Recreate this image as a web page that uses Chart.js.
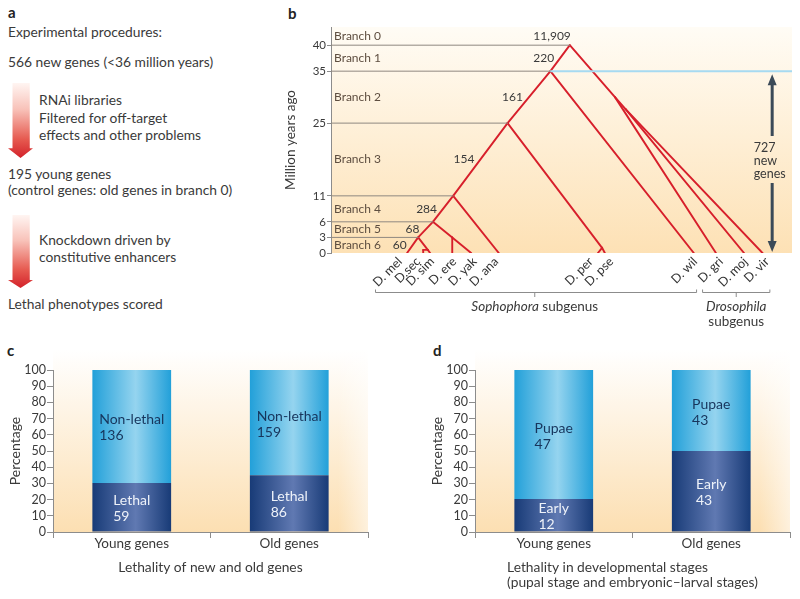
<!DOCTYPE html>
<html>
<head>
<meta charset="utf-8">
<title>Young genes in Drosophila</title>
<script src="https://cdn.jsdelivr.net/npm/chart.js@4.4.1/dist/chart.umd.min.js"></script>
<style>
  body { margin: 0; width: 800px; height: 599px; position: relative; overflow: hidden; background: #fff;
         font-family: Lato, "Open Sans", sans-serif; color: #3a3a3a; }
  .t { position: absolute; font-size: 13.8px; line-height: 17px; white-space: nowrap; }
  .letter { position: absolute; font-size: 15px; line-height: 17px; font-weight: bold; color: #222; }
  .arrow { position: absolute; left: 8px; width: 25px;
           background: linear-gradient(to bottom, #fff5f2 0%, #f8c2b9 35%, #e65a50 75%, #d3222a 100%); }
  canvas { position: absolute; }
</style>
</head>
<body>

<!-- panel a is just text and two arrows -->
<div class="letter" style="left:8px;top:4px">a</div>
<div class="t" style="left:8px;top:23px">Experimental procedures:</div>
<div class="t" style="left:8px;top:53px">566 new genes (&lt;36 million years)</div>
<div class="arrow" style="top:83px;height:75px;clip-path:polygon(18% 0,87% 0,87% 87%,100% 87%,50% 100%,0 87%,18% 87%)"></div>
<div class="t" style="left:39px;top:91px">RNAi libraries</div>
<div class="t" style="left:39px;top:109px">Filtered for off-target</div>
<div class="t" style="left:39px;top:126px">effects and other problems</div>
<div class="t" style="left:8px;top:165px">195 young genes</div>
<div class="t" style="left:8px;top:181px">(control genes: old genes in branch 0)</div>
<div class="arrow" style="top:215px;height:73px;clip-path:polygon(18% 0,87% 0,87% 89%,100% 89%,50% 100%,0 89%,18% 89%)"></div>
<div class="t" style="left:39px;top:231px">Knockdown driven by</div>
<div class="t" style="left:39px;top:248px">constitutive enhancers</div>
<div class="t" style="left:8px;top:295px">Lethal phenotypes scored</div>

<div class="letter" style="left:288px;top:5px">b</div>
<div class="letter" style="left:7px;top:342px">c</div>
<div class="letter" style="left:433px;top:342px">d</div>

<canvas id="tree" width="530" height="335" style="left:270px;top:0px"></canvas>
<canvas id="lethality" width="400" height="259" style="left:0px;top:340px"></canvas>
<canvas id="stages" width="400" height="259" style="left:400px;top:340px"></canvas>

<script>
const fam = 'Lato, "Open Sans", sans-serif';
Chart.defaults.font.family = fam;
Chart.defaults.color = '#3a3a3a';

// ---- panel b data ----
const tickAges = [0, 3, 6, 11, 25, 35, 40];
const branchNames = ['Branch 0', 'Branch 1', 'Branch 2', 'Branch 3', 'Branch 4', 'Branch 5', 'Branch 6'];
const branchGenes = ['11,909', '220', '161', '154', '284', '68', '60'];
const branchTop = [43.5, 40, 35, 25, 11, 6, 3];
const branchBottom = [40, 35, 25, 11, 6, 3, 0];

// tree nodes: x is just the left-right place in the drawing (0-100), age in million years
const nodeNames = ['root', 'n35', 'n25', 'n11', 'n6', 'n3', 'nEY', 'nSS', 'nSec', 'nPP', 'nD', 'nMV',
                   'mel', 'sec', 'sim', 'ere', 'yak', 'ana', 'per', 'pse', 'wil', 'gri', 'moj', 'vir'];
const nodeX = [51.8, 47.6, 38.3, 26.5, 22.1, 18.9, 26.3, 21.0, 20.0, 58.8, 61.6, 63.9,
               16.5, 20.0, 21.5, 26.3, 30.4, 36.4, 57.9, 59.4, 78.7, 83.5, 89.6, 93.6];
const nodeAge = [40, 35, 25, 11, 6, 3, 3, 0.6, 0.6, 1, 30, 27.7,
                 0, 0, 0, 0, 0, 0, 0, 0, 0, 0, 0, 0];
const edgeFrom = ['root', 'n35', 'n25', 'n11', 'n6', 'n3', 'n3', 'nSS', 'nSS', 'nSec', 'n6', 'nEY', 'nEY',
                  'n11', 'n25', 'nPP', 'nPP', 'n35', 'root', 'nD', 'nD', 'nMV', 'nMV'];
const edgeTo   = ['n35', 'n25', 'n11', 'n6', 'n3', 'mel', 'nSS', 'sim', 'nSec', 'sec', 'nEY', 'yak', 'ere',
                  'ana', 'nPP', 'per', 'pse', 'wil', 'nD', 'gri', 'nMV', 'moj', 'vir'];
const spine = ['root', 'n35', 'n25', 'n11', 'n6', 'n3', 'mel'];
const tipNames = ['mel', 'sec', 'sim', 'ere', 'yak', 'ana', 'per', 'pse', 'wil', 'gri', 'moj', 'vir'];
const tipLabels = ['D. mel', 'D.sec', 'D. sim', 'D. ere', 'D. yak', 'D. ana', 'D. per', 'D. pse',
                   'D. wil', 'D. gri', 'D. moj', 'D. vir'];
const newGenesText = ['727', 'new', 'genes'];

// ---- panels c and d data ----
const geneGroups = ['Young genes', 'Old genes'];
const lethalPct = [30.3, 35.1];
const nonLethalPct = [69.7, 64.9];
const lethalCount = [59, 86];
const nonLethalCount = [136, 159];
const earlyPct = [20.3, 50.0];
const pupaePct = [79.7, 50.0];
const earlyCount = [12, 43];
const pupaeCount = [47, 43];

const at = n => nodeNames.indexOf(n);
const pt = n => ({ x: nodeX[at(n)], y: nodeAge[at(n)] });

// tree as line segments
const treeSets = [];
spine.slice(0, 6).forEach(n => {
  treeSets.push({ data: [{ x: 0, y: nodeAge[at(n)] }, pt(n)], borderColor: '#8f8880', borderWidth: 1 });
});
treeSets.push({ data: [pt('n35'), { x: 100, y: 35 }], borderColor: '#a6daf1', borderWidth: 2 });
edgeFrom.forEach((f, i) => {
  treeSets.push({ data: [pt(f), pt(edgeTo[i])], borderColor: '#d71f2b', borderWidth: 1.9 });
});
treeSets.forEach(d => { d.showLine = true; d.pointRadius = 0; d.borderCapStyle = 'round'; });

// label nudges so the slanted names dont run into each other
const labelNudge = [-7, -5, 2, 2, 3.5, -2.5, -7, 6.5, 1.5, 5, 1.5, 4.5];

const treeDecor = {
  id: 'treeDecor',
  beforeDraw(chart) {
    const { ctx, chartArea: a } = chart;
    const g = ctx.createLinearGradient(0, a.top, 0, a.bottom);
    g.addColorStop(0, '#fffcf5');
    g.addColorStop(1, '#fde1b5');
    ctx.save();
    ctx.fillStyle = g;
    ctx.fillRect(a.left, a.top, a.right - a.left, a.bottom - a.top);
    ctx.restore();
  },
  afterDraw(chart) {
    const ctx = chart.ctx, xs = chart.scales.x, ys = chart.scales.y;
    const px = n => xs.getPixelForValue(nodeX[at(n)]);
    const py = n => ys.getPixelForValue(nodeAge[at(n)]);
    const spineX = y => {
      for (let k = 0; k < spine.length - 1; k++) {
        const y0 = py(spine[k]), y1 = py(spine[k + 1]);
        if (y >= y0 && y <= y1) return px(spine[k]) + (px(spine[k + 1]) - px(spine[k])) * (y - y0) / (y1 - y0);
      }
      return px('mel');
    };
    ctx.save();
    ctx.textBaseline = 'middle';
    ctx.font = '12px ' + fam;
    branchNames.forEach((b, i) => {
      const y = ys.getPixelForValue((branchTop[i] + branchBottom[i]) / 2);
      ctx.fillStyle = '#5e4e40';
      ctx.textAlign = 'left';
      ctx.fillText(b, ys.right + 3, y);
      ctx.fillStyle = '#3a3a3a';
      ctx.textAlign = 'right';
      ctx.fillText(branchGenes[i], i === 0 ? px('root') + 1 : spineX(y) - 6, y);
    });

    // species names
    ctx.fillStyle = '#333';
    ctx.textAlign = 'right';
    ctx.font = '12.5px ' + fam;
    tipNames.forEach((n, i) => {
      ctx.save();
      ctx.translate(px(n) + labelNudge[i], ys.bottom + 6.5);
      ctx.rotate(-Math.PI / 4);
      ctx.fillText(tipLabels[i], 0, 0);
      ctx.restore();
    });

    // subgenus brackets
    const by = ys.bottom + 39.5;
    ctx.strokeStyle = '#8c8c8c';
    ctx.lineWidth = 1;
    [[9.65, 44.2, 79.3], [80.6, 87.9, 95.2]].forEach(br => {
      const a = xs.getPixelForValue(br[0]), m = xs.getPixelForValue(br[1]), b = xs.getPixelForValue(br[2]);
      ctx.beginPath();
      ctx.moveTo(a, by - 3); ctx.lineTo(a, by); ctx.lineTo(b, by); ctx.lineTo(b, by - 3);
      ctx.moveTo(m, by); ctx.lineTo(m, by + 4.5);
      ctx.stroke();
    });
    ctx.fillStyle = '#3a3a3a';
    ctx.textBaseline = 'alphabetic';
    const it = 'italic 13.5px ' + fam, up = '13.5px ' + fam;
    ctx.font = it; const w1 = ctx.measureText('Sophophora').width;
    ctx.font = up; const w2 = ctx.measureText(' subgenus').width;
    let sx = xs.getPixelForValue(44.2) - (w1 + w2) / 2;
    ctx.textAlign = 'left';
    ctx.font = it; ctx.fillText('Sophophora', sx, by + 18);
    ctx.font = up; ctx.fillText(' subgenus', sx + w1, by + 18);
    ctx.textAlign = 'center';
    ctx.font = it; ctx.fillText('Drosophila', xs.getPixelForValue(87.9), by + 18);
    ctx.font = up; ctx.fillText('subgenus', xs.getPixelForValue(87.9), by + 33);

    // 727 new genes double arrow, from the 35 line down to 0
    const ax = xs.getPixelForValue(95.7);
    const top = ys.getPixelForValue(35) + 3, bot = ys.getPixelForValue(0) - 1, mid = (top + bot) / 2;
    ctx.fillStyle = '#3b4a58';
    ctx.strokeStyle = '#3b4a58';
    ctx.lineWidth = 3;
    ctx.beginPath();
    ctx.moveTo(ax, top + 10); ctx.lineTo(ax, mid - 27);
    ctx.moveTo(ax, mid + 20); ctx.lineTo(ax, bot - 10);
    ctx.stroke();
    ctx.beginPath();
    ctx.moveTo(ax, top); ctx.lineTo(ax + 4.5, top + 11); ctx.lineTo(ax - 4.5, top + 11); ctx.closePath();
    ctx.moveTo(ax, bot); ctx.lineTo(ax + 4.5, bot - 11); ctx.lineTo(ax - 4.5, bot - 11); ctx.closePath();
    ctx.fill();
    ctx.fillStyle = '#3a3a3a';
    ctx.font = '12.5px ' + fam;
    ctx.textAlign = 'left';
    newGenesText.forEach((s, i) => ctx.fillText(s, ax - 18.5, mid - 11.5 + i * 13));
    ctx.restore();
  }
};

new Chart(document.getElementById('tree'), {
  type: 'scatter',
  data: { datasets: treeSets },
  options: {
    responsive: false,
    animation: false,
    layout: { padding: { left: 0, right: 8, top: 27, bottom: 82 } },
    plugins: { legend: { display: false }, tooltip: { enabled: false } },
    scales: {
      x: { type: 'linear', min: 0, max: 100, display: false },
      y: {
        type: 'linear', min: 0, max: 43.5,
        afterBuildTicks: s => { s.ticks = tickAges.map(v => ({ value: v })); },
        afterFit: s => { s.width = 61; },
        border: { display: true, color: '#8c8c8c' },
        grid: { drawOnChartArea: false, tickLength: 4, color: '#8c8c8c' },
        ticks: { font: { size: 11.5 }, color: '#3a3a3a', padding: 1, autoSkip: false },
        title: { display: true, text: 'Million years ago', font: { size: 13.5 }, color: '#3a3a3a', padding: { top: 12.6, bottom: 0 } }
      }
    }
  },
  plugins: [treeDecor]
});

// ---- stacked bars ----
function barShade(edge, light) {
  return function (c) {
    const chart = c.chart, xs = chart.scales.x;
    if (!chart.chartArea || !xs || c.dataIndex === undefined) return edge;
    const cx = xs.getPixelForValue(c.dataIndex);
    const half = xs.width / chart.data.labels.length * 0.5 / 2;
    const g = chart.ctx.createLinearGradient(cx - half, 0, cx + half, 0);
    g.addColorStop(0, edge);
    g.addColorStop(0.55, light);
    g.addColorStop(1, edge);
    return g;
  };
}

const paperBg = {
  id: 'paperBg',
  beforeDraw(chart) {
    const { ctx, chartArea: a } = chart;
    const top = a.top - 20;
    const g = ctx.createLinearGradient(0, top, 0, a.bottom);
    g.addColorStop(0, '#ffffff');
    g.addColorStop(1, '#fcdfb2');
    ctx.save();
    ctx.fillStyle = g;
    ctx.fillRect(a.left, top, a.right - a.left, a.bottom - top);
    const f = ctx.createLinearGradient(a.right - 30, 0, a.right, 0);
    f.addColorStop(0, 'rgba(255,255,255,0)');
    f.addColorStop(1, 'rgba(255,255,255,0.55)');
    ctx.fillStyle = f;
    ctx.fillRect(a.right - 30, top, 30, a.bottom - top);
    ctx.restore();
  }
};

const barText = {
  id: 'barText',
  afterDatasetsDraw(chart) {
    const ctx = chart.ctx;
    ctx.save();
    ctx.font = '14px ' + fam;
    ctx.textAlign = 'left';
    ctx.textBaseline = 'middle';
    chart.data.datasets.forEach((ds, i) => {
      chart.getDatasetMeta(i).data.forEach((bar, j) => {
        const lines = [ds.label, String(ds.counts[j])];
        const w = Math.max(...lines.map(s => ctx.measureText(s).width));
        const cy = (bar.y + bar.base) / 2 + 1.5;
        ctx.fillStyle = ds.textColor;
        lines.forEach((s, k) => ctx.fillText(s, bar.x - w / 2, cy - 8 + k * 16));
      });
    });
    ctx.restore();
  }
};

const xTitle = {
  id: 'xTitle',
  afterDraw(chart, args, opts) {
    const ctx = chart.ctx, a = chart.chartArea;
    ctx.save();
    ctx.font = '13.8px ' + fam;
    ctx.fillStyle = '#3a3a3a';
    ctx.textBaseline = 'alphabetic';
    ctx.textAlign = 'left';
    const w = Math.max(...opts.lines.map(s => ctx.measureText(s).width));
    const left = (a.left + a.right) / 2 - w / 2;
    opts.lines.forEach((s, k) => ctx.fillText(s, left, a.bottom + 40.3 + k * 14.6));
    ctx.restore();
  }
};

function stackedBars(id, low, high, lowCount, highCount, lowName, highName, titleLines, padLeft, padRight) {
  return new Chart(document.getElementById(id), {
    type: 'bar',
    data: {
      labels: geneGroups,
      datasets: [
        { label: lowName, data: low, counts: lowCount, textColor: '#eef2f9', backgroundColor: barShade('#183b77', '#6079b2') },
        { label: highName, data: high, counts: highCount, textColor: '#17355c', backgroundColor: barShade('#22a0d9', '#95d4ef') }
      ]
    },
    options: {
      responsive: false,
      animation: false,
      layout: { padding: { left: padLeft, right: padRight, top: 30, bottom: 0 } },
      datasets: { bar: { categoryPercentage: 1, barPercentage: 0.5, borderWidth: 0 } },
      plugins: { legend: { display: false }, tooltip: { enabled: false }, xTitle: { lines: titleLines } },
      scales: {
        x: {
          stacked: true,
          afterFit: s => { s.height = 67; },
          border: { color: '#8c8c8c' },
          grid: { drawOnChartArea: false, tickLength: 6, color: '#8c8c8c' },
          ticks: { font: { size: 13.5 }, color: '#3a3a3a', padding: -2 }
        },
        y: {
          stacked: true, min: 0, max: 100,
          afterFit: s => { s.width = 53; },
          border: { color: '#8c8c8c' },
          grid: { drawOnChartArea: false, tickLength: 6, color: '#8c8c8c' },
          ticks: { stepSize: 10, font: { size: 12.5 }, color: '#3a3a3a', padding: 1, autoSkip: false },
          title: { display: true, text: 'Percentage', font: { size: 14 }, color: '#3a3a3a', padding: { top: 6.6, bottom: 0 } }
        }
      }
    },
    plugins: [paperBg, barText, xTitle]
  });
}

stackedBars('lethality', lethalPct, nonLethalPct, lethalCount, nonLethalCount, 'Lethal', 'Non-lethal',
  ['Lethality of new and old genes'], 0, 32);
stackedBars('stages', earlyPct, pupaePct, earlyCount, pupaeCount, 'Early', 'Pupae',
  ['Lethality in developmental stages', '(pupal stage and embryonic\u2013larval stages)'], 22, 10);
</script>
</body>
</html>
